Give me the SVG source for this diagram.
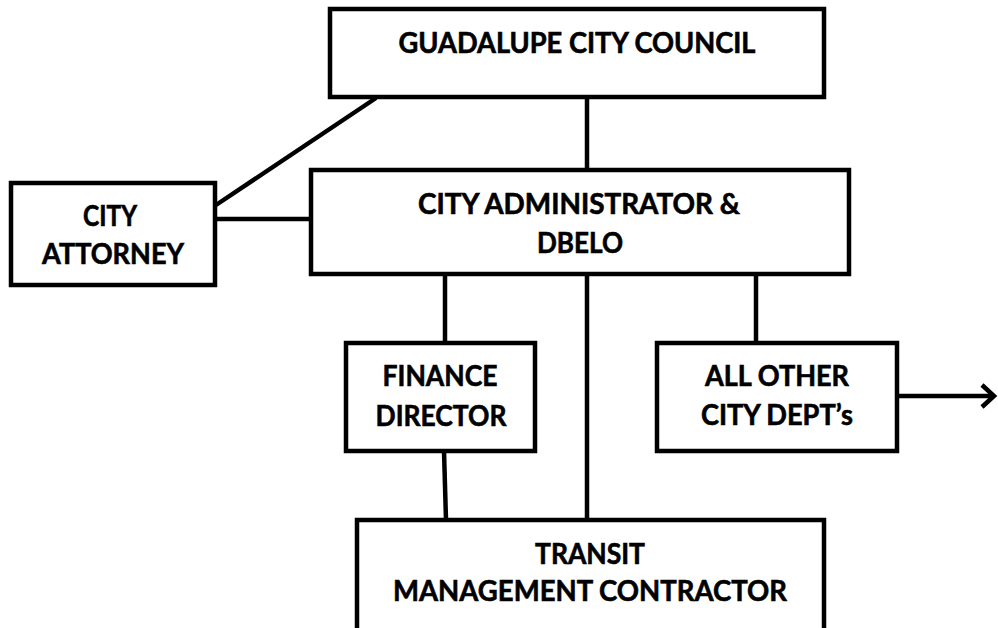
<svg xmlns="http://www.w3.org/2000/svg" width="998" height="628" viewBox="0 0 998 628">
<style>
.box{fill:#fff;stroke:#000;stroke-width:4.5}
.c{stroke:#000;stroke-width:4.5;fill:none}
text{font-family:Lato,"Liberation Sans",Arial,sans-serif;font-weight:bold;font-size:28px;fill:#000;stroke:#000;stroke-width:0.6;text-anchor:middle}
</style>
<defs>
<marker id="arr" markerUnits="userSpaceOnUse" markerWidth="20" markerHeight="30" refX="14" refY="13" orient="auto" viewBox="0 0 20 26">
<path d="M2,2 L14,13 L2,24" fill="none" stroke="#000" stroke-width="4.5"/>
</marker>
</defs>
<g id="connectors">
<line class="c" x1="587" y1="99" x2="587" y2="170"/>
<line class="c" x1="376" y1="98" x2="216" y2="205"/>
<line class="c" x1="215" y1="219" x2="313" y2="219"/>
<line class="c" x1="445" y1="274" x2="445" y2="343"/>
<line class="c" x1="587" y1="274" x2="587" y2="520"/>
<line class="c" x1="756" y1="274" x2="756" y2="343"/>
<line class="c" x1="444" y1="451" x2="446" y2="520"/>
<line class="c" x1="897" y1="396" x2="994" y2="396" marker-end="url(#arr)"/>
</g>
<g id="council">
<rect class="box" x="330" y="9" width="494" height="88"/>
<text x="577" y="53" textLength="357" lengthAdjust="spacingAndGlyphs">GUADALUPE CITY COUNCIL</text>
</g>
<g id="administrator">
<rect class="box" x="311" y="170" width="538" height="104"/>
<text x="579" y="214" textLength="322" lengthAdjust="spacingAndGlyphs">CITY ADMINISTRATOR &amp;</text>
<text x="580" y="253" textLength="86" lengthAdjust="spacingAndGlyphs">DBELO</text>
</g>
<g id="attorney">
<rect class="box" x="11" y="183" width="204" height="102"/>
<text x="110" y="226" textLength="54" lengthAdjust="spacingAndGlyphs">CITY</text>
<text x="113" y="264" textLength="142" lengthAdjust="spacingAndGlyphs">ATTORNEY</text>
</g>
<g id="finance">
<rect class="box" x="346" y="343" width="189" height="108"/>
<text x="440" y="386" textLength="115" lengthAdjust="spacingAndGlyphs">FINANCE</text>
<text x="441" y="426" textLength="131" lengthAdjust="spacingAndGlyphs">DIRECTOR</text>
</g>
<g id="other-depts">
<rect class="box" x="657" y="343" width="240" height="108"/>
<text x="777" y="386" textLength="144" lengthAdjust="spacingAndGlyphs">ALL OTHER</text>
<text x="777" y="425" textLength="152" lengthAdjust="spacingAndGlyphs">CITY DEPT’s</text>
</g>
<g id="transit">
<rect class="box" x="357" y="520" width="467" height="130"/>
<text x="590" y="564" textLength="110" lengthAdjust="spacingAndGlyphs">TRANSIT</text>
<text x="590" y="601" textLength="394" lengthAdjust="spacingAndGlyphs">MANAGEMENT CONTRACTOR</text>
</g>
</svg>
